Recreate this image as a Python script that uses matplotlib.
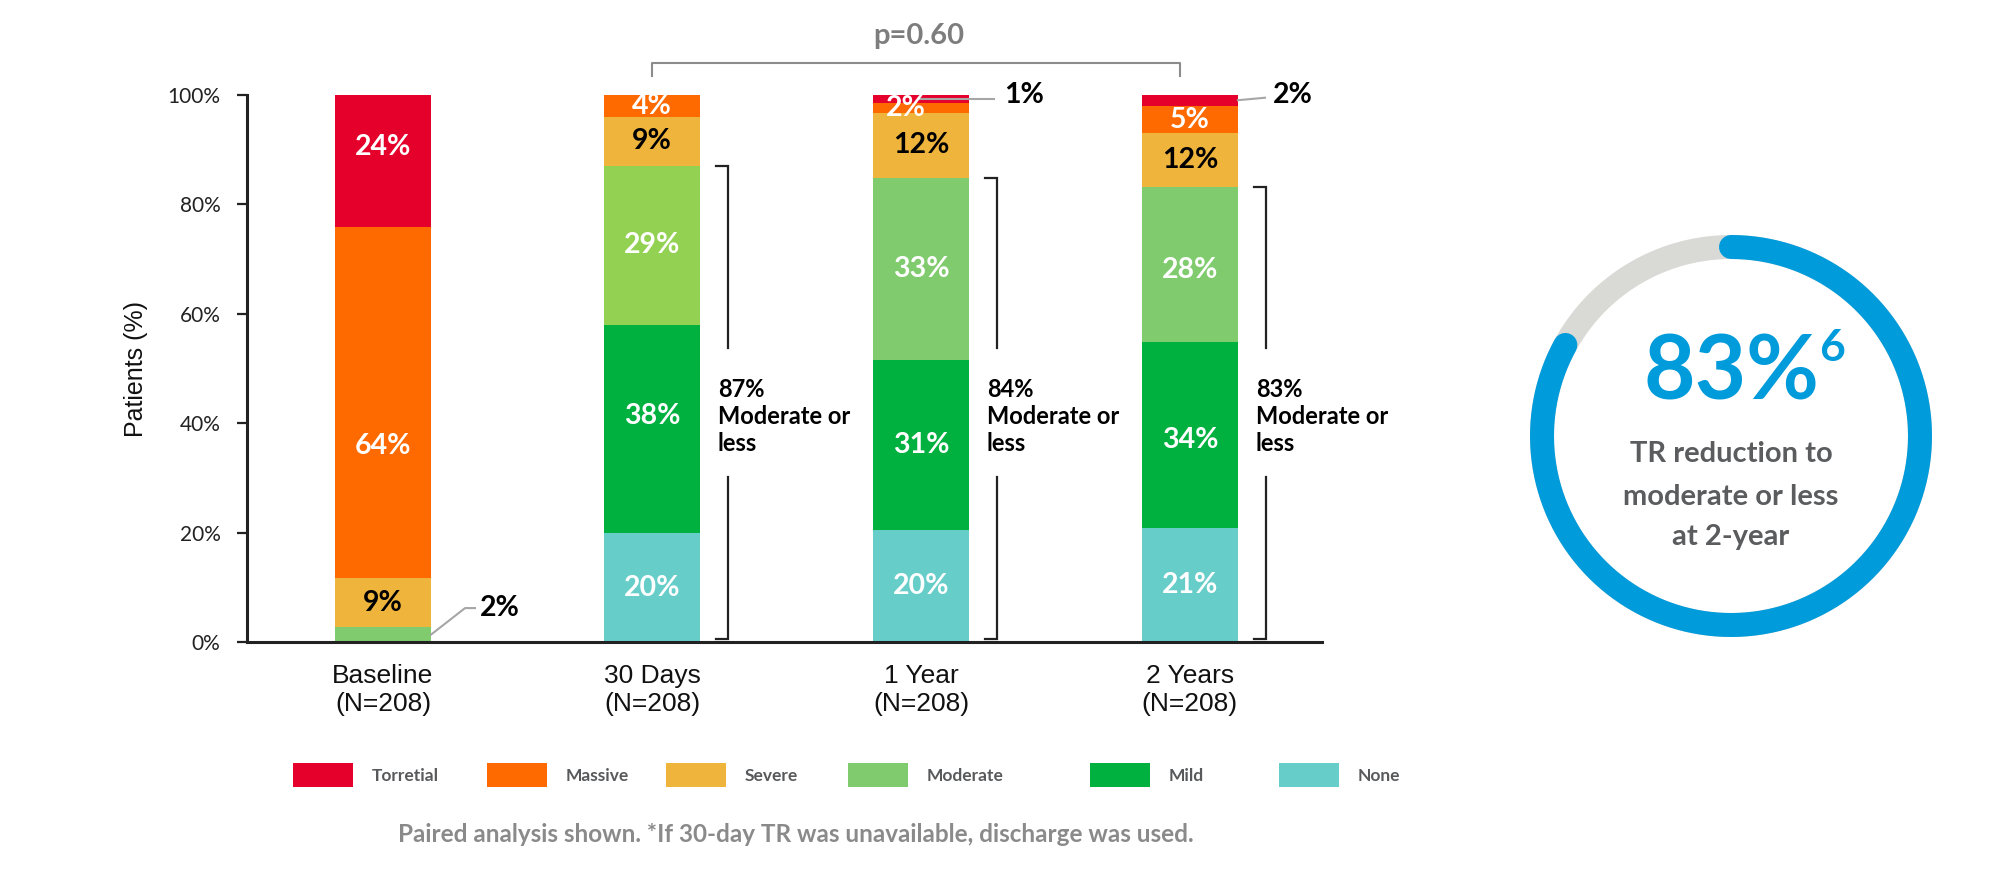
import numpy as np
import matplotlib
matplotlib.use("Agg")
import matplotlib.pyplot as plt
from matplotlib.patches import Rectangle

# ---------------- data ----------------
categories = ["Baseline\n(N=208)", "30 Days\n(N=208)", "1 Year\n(N=208)", "2 Years\n(N=208)"]
series = ["None", "Mild", "Moderate", "Severe", "Massive", "Torretial"]   # bottom -> top

none_vals = [0.0, 19.9, 20.4, 20.8]
mild_vals = [0.0, 38.0, 31.2, 34.1]
moderate_vals = [2.7, 29.2, 33.3, 28.3]
severe_vals = [9.0, 8.9, 11.9, 9.8]
massive_vals = [64.2, 4.0, 1.8, 5.0]
torretial_vals = [24.1, 0.0, 1.4, 2.1]

none_lbl = [None, "20%", "20%", "21%"]
mild_lbl = [None, "38%", "31%", "34%"]
moderate_lbl = ["2%", "29%", "33%", "28%"]
severe_lbl = ["9%", "9%", "12%", "12%"]
massive_lbl = ["64%", "4%", "2%", "5%"]
torretial_lbl = ["24%", None, "1%", "2%"]

reduction_pct = [87, 84, 83]          # moderate or less at 30d, 1y, 2y
p_value_text = "p=0.60"
donut_value = 83
donut_ref = "6"
donut_caption = ["TR reduction to", "moderate or less", "at 2-year"]
footer = "Paired analysis shown. *If 30-day TR was unavailable, discharge was used."
legend_order = ["Torretial", "Massive", "Severe", "Moderate", "Mild", "None"]

# ---------------- style ----------------
colors = {
    "Torretial": "#e4002b",
    "Massive": "#ff6a00",
    "Severe": "#efb43c",
    "Moderate": "#7fcb6e",
    "Mild": "#00b140",
    "None": "#66cdc9",
}
moderate_bar_colors = ["#7fcb6e", "#93d152", "#7fcb6e", "#7fcb6e"]
label_color = {"None": "white", "Mild": "white", "Moderate": "white",
               "Severe": "black", "Massive": "white", "Torretial": "white"}

BOLD = dict(family=["Lato", "DejaVu Sans"], weight="bold")

W, H = 2000, 872
fig = plt.figure(figsize=(20, 8.72), dpi=100)
fig.patch.set_facecolor("white")


def fx(px):
    return px / W


def fy(py):
    return 1 - py / H


ax = fig.add_axes([fx(247), fy(642), fx(1322) - fx(247), fy(95) - fy(642)])

vals = {"None": none_vals, "Mild": mild_vals, "Moderate": moderate_vals,
        "Severe": severe_vals, "Massive": massive_vals, "Torretial": torretial_vals}
lbls = {"None": none_lbl, "Mild": mild_lbl, "Moderate": moderate_lbl,
        "Severe": severe_lbl, "Massive": massive_lbl, "Torretial": torretial_lbl}

# labels that sit outside the bar with a leader line: (series, bar index)
external = {("Moderate", 0), ("Torretial", 2), ("Torretial", 3)}
# small placement nudges of inline labels (x in bar units, y in % points)
inline_dx = {("Massive", 2): -0.055}
inline_dy = {("Massive", 0): -8.0, ("Torretial", 0): 2.6, ("Mild", 1): 2.4,
             ("Mild", 3): -1.0, ("Moderate", 3): -1.0}

x = np.arange(len(categories))
width = 0.357
bottom = np.zeros(len(categories))
seg_mid = {}
for name in series:
    v = np.array(vals[name])
    cols = moderate_bar_colors if name == "Moderate" else [colors[name]] * len(x)
    ax.bar(x, v, width, bottom=bottom, color=cols, linewidth=0, zorder=2)
    for i, lab in enumerate(lbls[name]):
        if lab is None or v[i] <= 0:
            continue
        mid = bottom[i] + v[i] / 2
        seg_mid[(name, i)] = mid
        if (name, i) in external:
            continue
        ax.text(x[i] + inline_dx.get((name, i), 0), mid + inline_dy.get((name, i), 0),
                lab, ha="center", va="center",
                fontsize=20.5, color=label_color[name], zorder=4, **BOLD)
    bottom += v

cum_mod = np.array(none_vals) + np.array(mild_vals) + np.array(moderate_vals)

# external labels with leader lines
lc = "#a6a6a6"
# baseline 2%
m = seg_mid[("Moderate", 0)]
ax.plot([x[0] + width / 2, x[0] + 0.305, x[0] + 0.342], [m, 6.2, 6.2],
        color=lc, lw=1.5, clip_on=False, zorder=3)
ax.text(x[0] + 0.36, 6.2, moderate_lbl[0], ha="left", va="center", fontsize=20.5,
        color="black", **BOLD)
# 1 year 1%
m = seg_mid[("Torretial", 2)]
ax.plot([x[2] - 0.007, x[2] + 0.271], [m, 99.3], color=lc, lw=1.5, clip_on=False, zorder=3)
ax.text(x[2] + 0.31, 100.0, torretial_lbl[2], ha="left", va="center", fontsize=20.5,
        color="black", **BOLD)
# 2 years 2%
m = seg_mid[("Torretial", 3)]
ax.plot([x[3] + width / 2, x[3] + 0.279], [m, 99.5], color=lc, lw=1.5, clip_on=False, zorder=3)
ax.text(x[3] + 0.309, 100.0, torretial_lbl[3], ha="left", va="center", fontsize=20.5,
        color="black", **BOLD)

# brackets "moderate or less"
for k, i in enumerate(x[1:]):
    xt, xb = i + 0.238, i + 0.283
    top = cum_mod[i]
    ax.plot([xt, xb, xb], [top, top, 53.7], color="#222222", lw=1.6, clip_on=False,
            solid_joinstyle="miter")
    ax.plot([xb, xb, xt], [30.2, 0.55, 0.55], color="#222222", lw=1.6, clip_on=False,
            solid_joinstyle="miter")
    ax.text(i + 0.245, 41.2, f"{reduction_pct[k]}%\nModerate or\nless", ha="left",
            va="center", fontsize=17, color="black", linespacing=1.22, **BOLD)

# p-value bracket
ax.plot([1.0, 1.0, 2.963, 2.963], [103.5, 105.8, 105.8, 103.5], color="#8c8c8c",
        lw=1.5, clip_on=False)
ax.text(1.99, 110.8, p_value_text, ha="center", va="center", fontsize=21,
        color="#7d7d7d", **BOLD)

# axes styling
ax.set_xlim(-0.5056, 3.491)
ax.set_ylim(0, 100)
ax.set_yticks([0, 20, 40, 60, 80, 100])
ax.set_yticklabels([f"{t}%" for t in [0, 20, 40, 60, 80, 100]],
                   fontsize=15, color="#222222", family=["Lato", "DejaVu Sans"])
ax.set_xticks(x)
ax.set_xticklabels(categories, fontsize=19, color="#111111",
                   family=["Liberation Sans", "DejaVu Sans"])
ax.tick_params(axis="x", length=0, pad=16)
ax.tick_params(axis="y", length=7, width=1.6, pad=12, color="#222222")
for s in ["top", "right"]:
    ax.spines[s].set_visible(False)
for s in ["left", "bottom"]:
    ax.spines[s].set_linewidth(2.2)
    ax.spines[s].set_color("#222222")
ax.set_ylabel("Patients (%)", fontsize=18, color="#111111",
              family=["Liberation Sans", "DejaVu Sans"])
ax.yaxis.set_label_coords(-0.092, 0.5)

# legend (manual)
leg_x = [293, 487, 666, 848, 1090, 1279]
for name, lx in zip(legend_order, leg_x):
    fig.add_artist(Rectangle((fx(lx), fy(787)), 60 / W, 24 / H, transform=fig.transFigure,
                             facecolor=colors[name], edgecolor="none"))
    fig.text(fx(lx + 79), fy(776), name, ha="left", va="center", fontsize=12.5,
             color="#58595b", **BOLD)

fig.text(fx(796), fy(834), footer, ha="center", va="center", fontsize=17.5,
         color="#8a8a8a", **BOLD)

# donut
cx, cy, half = 1731, 436, 235
ax2 = fig.add_axes([fx(cx - half), fy(cy + half), 2 * half / W, 2 * half / H])
ax2.set_xlim(-half, half)
ax2.set_ylim(-half, half)
ax2.set_aspect("equal")
ax2.axis("off")
R = 189
ring_lw = 24 * 72 / 100
t_all = np.linspace(0, 2 * np.pi, 400)
ax2.plot(R * np.cos(t_all), R * np.sin(t_all), color="#d9d9d6", lw=ring_lw,
         solid_capstyle="butt")
t_blue = np.radians(np.linspace(90, 90 - donut_value / 100 * 360, 400))
ax2.plot(R * np.cos(t_blue), R * np.sin(t_blue), color="#009bdb", lw=ring_lw,
         solid_capstyle="round")
ax2.text(0, 62, f"{donut_value}%", ha="center", va="center", fontsize=64,
         color="#009bdb", **BOLD)
ax2.text(88, 108, donut_ref, ha="left", va="top", fontsize=32, color="#009bdb", **BOLD)
for yy, line in zip([-18, -61, -101], donut_caption):
    ax2.text(0, yy, line, ha="center", va="center", fontsize=21, color="#5b5c5e", **BOLD)

fig.savefig("out.png", dpi=100, facecolor="white")
